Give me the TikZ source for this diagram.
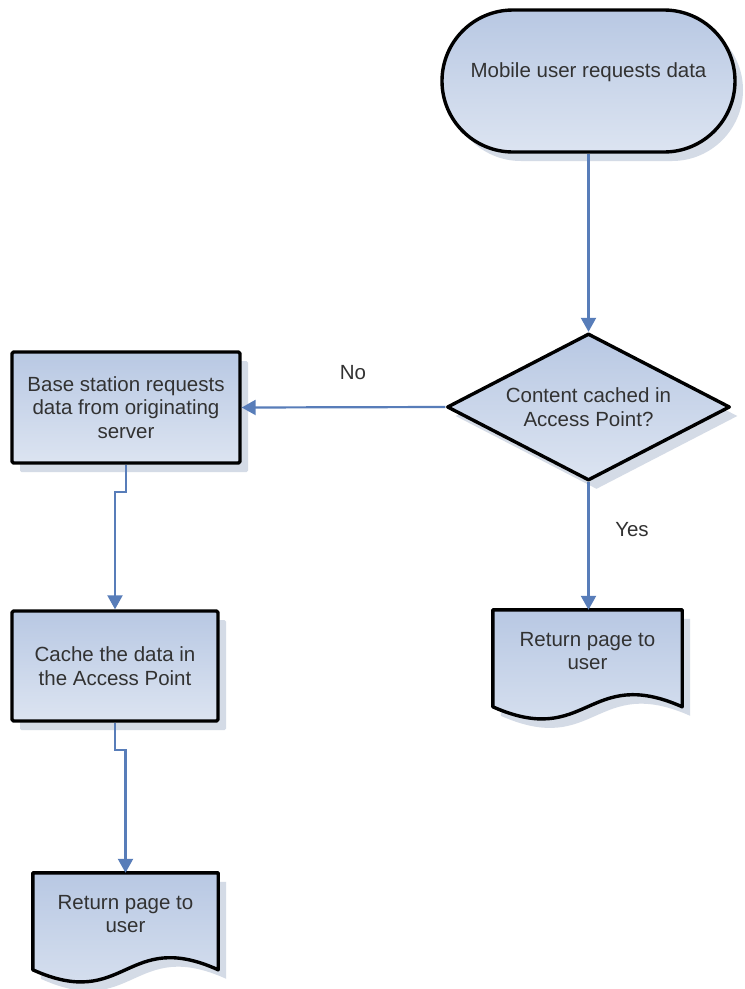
\documentclass[tikz,border=0pt]{standalone}
\usepackage{fontspec}
\setmainfont{Liberation Sans}
\usetikzlibrary{shapes.geometric,shapes.misc,arrows.meta,calc,shadows,backgrounds}

\definecolor{boxtop}{RGB}{184,200,227}
\definecolor{boxbot}{RGB}{220,228,241}
\definecolor{shadowc}{RGB}{205,213,226}
\definecolor{link}{RGB}{88,125,185}
\definecolor{ink}{RGB}{50,50,50}

% outline of a document symbol hung below the text node #1
\newcommand\docoutline[1]{%
  \path[flowfill]
    (#1.north west) -- (#1.north east) -- ($(#1.north east)+(0,97)$)
    .. controls ($(#1.north)+(0,55)$) and ($(#1.north)+(0,139)$) ..
    ($(#1.north west)+(0,97)$) -- cycle;}

\begin{document}
\begin{tikzpicture}[x=1pt,y=-1pt,
  every node/.style={font=\fontsize{20.5}{23.5}\selectfont, text=ink, align=center},
  flowfill/.style={draw=black, line width=3.4pt, line join=round,
    top color=boxtop, bottom color=boxbot,
    drop shadow={shadow xshift=8pt, shadow yshift=-9pt, fill=shadowc, opacity=0.85}},
  terminal/.style={flowfill, rounded rectangle, rounded rectangle arc length=180,
    minimum width=293pt, minimum height=142pt, inner sep=0pt,
    text height=15pt, text depth=23pt},
  decision/.style={flowfill, diamond, shape aspect=2, inner sep=0pt,
    minimum width=283pt, minimum height=147pt},
  process/.style={flowfill, rectangle, rounded corners=1.5pt, inner sep=0pt},
  docnode/.style={rectangle, draw=none, inner sep=0pt, minimum height=82pt},
  conn/.style={draw=link, line width=2.2pt,
    -{Triangle[width=15pt,length=14pt]}}]

\begin{scope}[on background layer]
  \fill[white] (0,0) rectangle (745,989);
\end{scope}
\useasboundingbox (0,0) rectangle (745,989);

% shapes
\node[terminal] (start) at (588.5,81) {Mobile user requests data};
\node[decision] (dia) at (588.5,407) {Content cached in\\Access Point?};
\node[process, minimum width=228pt, minimum height=111pt] (fetch) at (126,407.5)
  {Base station requests\\data from originating\\server};
\node[process, minimum width=206pt, minimum height=110pt] (cache) at (115,666)
  {Cache the data in\\the Access Point};
\node[docnode, minimum width=189pt] (retA) at (587.5,651) {Return page to\\user};
\node[docnode, minimum width=185pt] (retB) at (125.5,914) {Return page to\\user};

\begin{scope}[on background layer]
  \docoutline{retA}
  \docoutline{retB}
\end{scope}

% connectors
\draw[conn] (start.south) -- (dia.north);
\draw[conn] (dia.west) -- (fetch.east);
\draw[conn] (dia.south) -- (dia.south |- retA.north);
\draw[conn] (fetch.south) -- ++(0,27) -| (cache.north);
\draw[conn] (cache.south) -- ++(0,27) -| (retB.north);

% branch labels
\node (no) at (353,373) {No};
\node (yes) at (632,530) {Yes};
\end{tikzpicture}
\end{document}
